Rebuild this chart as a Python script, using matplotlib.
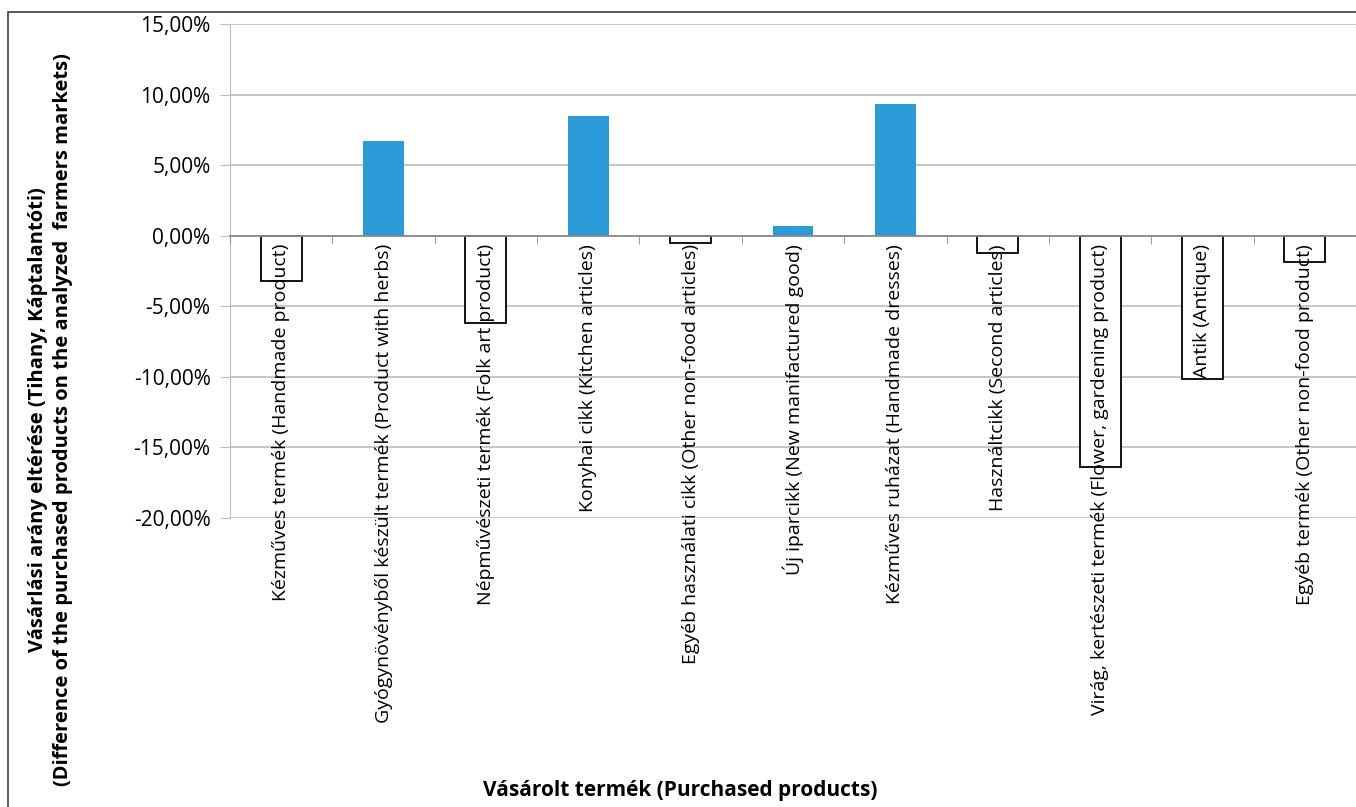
import matplotlib.pyplot as plt
import matplotlib.patches as mpatches
import numpy as np
from matplotlib.ticker import FuncFormatter, FixedLocator

plt.rcParams["font.family"] = ["Open Sans", "DejaVu Sans"]

categories = [
    "Kézműves termék (Handmade product)",
    "Gyógynövényből készült termék (Product with herbs)",
    "Népművészeti termék (Folk art product)",
    "Konyhai cikk (Kitchen articles)",
    "Egyéb használati cikk (Other non-food articles)",
    "Új iparcikk (New manifactured good)",
    "Kézműves ruházat (Handmade dresses)",
    "Használtcikk (Second articles)",
    "Virág, kertészeti termék (Flower, gardening product)",
    "Antik (Antique)",
    "Egyéb termék (Other non-food product)",
]
values = [-3.2, 6.7, -6.2, 8.5, -0.5, 0.7, 9.35, -1.25, -16.4, -10.15, -1.85]

yticks = [-20, -15, -10, -5, 0, 5, 10, 15]

fig = plt.figure(figsize=(13.56, 8.07), dpi=100)
ax = fig.add_axes([230 / 1356, 1 - 518 / 807, 1126 / 1356, (518 - 24) / 807])

x = np.arange(len(categories))
vals = np.array(values)
pos = vals >= 0
ax.bar(x[pos], vals[pos], width=0.4, color="#2b9cd8", zorder=2)
ax.bar(x[~pos], vals[~pos], width=0.4, facecolor="white",
       edgecolor="black", linewidth=1.3, zorder=2)

ax.set_xlim(-0.5, len(categories) - 0.5)
ax.set_ylim(-20, 15)
ax.set_yticks(yticks)
ax.yaxis.set_major_formatter(
    FuncFormatter(lambda v, p: f"{v:.2f}%".replace(".", ","))
)
ax.grid(axis="y", color="#bdbdbd", lw=1.2)
ax.tick_params(axis="y", length=7, color="#bdbdbd", labelsize=15, pad=7)

for s in ["top", "right"]:
    ax.spines[s].set_visible(False)
ax.spines["left"].set_color("#bdbdbd")
ax.spines["bottom"].set_position(("data", 0))
ax.spines["bottom"].set_color("#8c8c8c")
ax.spines["bottom"].set_linewidth(1.3)
ax.spines["bottom"].set_zorder(3)

ax.set_xticks(x)
ax.set_xticklabels(categories, rotation=90, va="top", ha="center", fontsize=14)
ax.tick_params(axis="x", which="major", length=0, pad=6)
ax.xaxis.set_minor_locator(FixedLocator(np.arange(-0.5, len(categories))))
ax.tick_params(axis="x", which="minor", length=6, color="#8c8c8c", direction="out")
# labels sit on top of the bars, grid stays behind
ax.xaxis.set_zorder(4)
ax.yaxis.set_zorder(1)

fig.text(0.037, 0.48,
         "Vásárlási arány eltérése (Tihany, Káptalantóti)\n"
         "(Difference of the purchased products on the analyzed  farmers markets)",
         rotation=90, ha="center", va="center", fontsize=14.5, fontweight="bold",
         linespacing=1.35)
fig.text(0.502, 0.021, "Vásárolt termék (Purchased products)",
         ha="center", va="center", fontsize=15, fontweight="bold")

# outer chart frame
fig.patches.append(mpatches.Rectangle((8 / 1356, -0.01), 1.1, 1 - 12 / 807 + 0.01,
                                      transform=fig.transFigure, fill=False,
                                      edgecolor="#404040", lw=1.2))

fig.savefig("out.png", dpi=100)
